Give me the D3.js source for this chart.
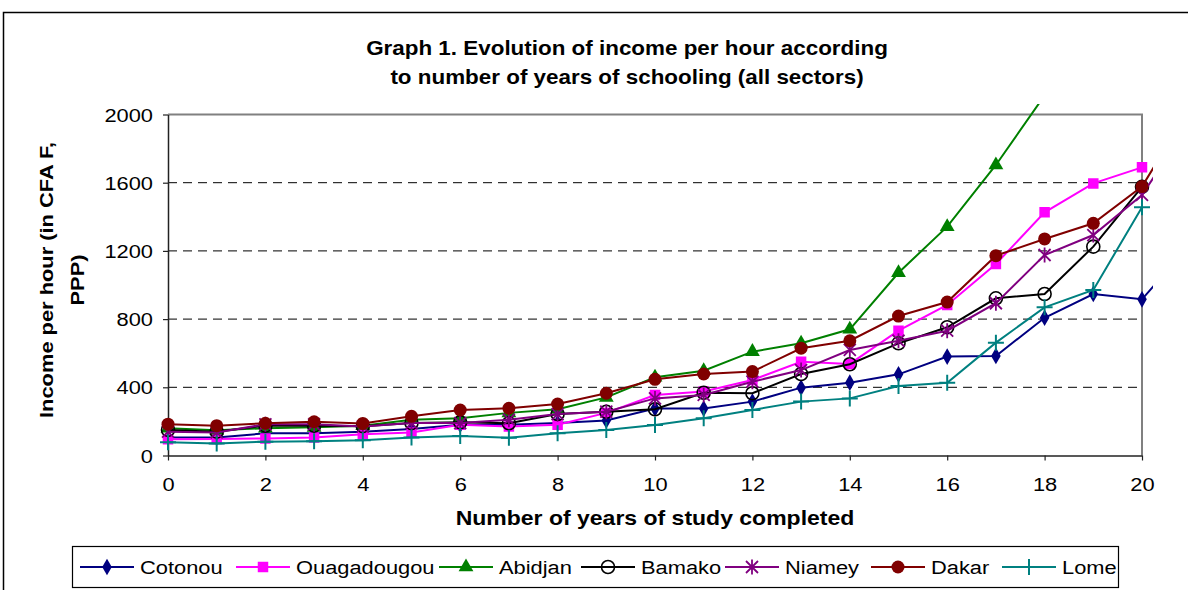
<!DOCTYPE html>
<html><head><meta charset="utf-8">
<script src="https://cdn.jsdelivr.net/npm/d3@7"></script>
<style>
html,body{margin:0;padding:0;background:#fff;}
svg{display:block;}
text{font-family:"Liberation Sans",Arial,sans-serif;fill:#000;}
</style></head>
<body>
<svg id="chart" width="1188" height="590"></svg>
<script>
// ---- data ----
const years = [0,1,2,3,4,5,6,7,8,9,10,11,12,13,14,15,16,17,18,19,20,21];
const cotonou     = [105,105,130,130,140,155,180,180,190,205,275,275,316,398,427,476,580,584,808,947,916,1242];
const ouagadougou = [95,97,100,105,125,135,180,170,180,250,355,375,443,550,537,732,883,1123,1426,1596,1690,null];
const abidjan     = [160,148,160,165,175,210,218,250,271,341,459,497,609,658,740,1072,1342,1704,2112,null,null,null];
const bamako      = [150,140,175,175,172,190,195,189,243,257,271,368,365,478,535,658,752,922,947,1225,1576,null];
const niamey      = [140,135,183,183,170,190,190,210,243,257,335,355,433,501,619,673,732,893,1176,1293,1528,1960];
const dakar       = [184,175,189,198,188,230,267,277,302,365,447,478,492,629,673,818,900,1172,1270,1362,1577,2048];
const lome        = [78,71,81,83,90,105,114,104,130,150,179,218,267,316,335,408,427,662,869,971,1456,null];
const seriesNames = ["Cotonou","Ouagadougou","Abidjan","Bamako","Niamey","Dakar","Lome"];
const seriesValues = [cotonou,ouagadougou,abidjan,bamako,niamey,dakar,lome];
const xTicks = [0,2,4,6,8,10,12,14,16,18,20];
const yTicks = [0,400,800,1200,1600,2000];
const titleLines = ["Graph 1. Evolution of income per hour according","to number of years of schooling (all sectors)"];
const xTitle = "Number of years of study completed";
const yTitleLines = ["Income per hour (in CFA F,","PPP)"];

// ---- styles / layout ----
const colors = ["#000080","#FF00FF","#008000","#000000","#800080","#800000","#008080"];
const shapes = ["diamond","square","triangle","circle","asterisk","dot","plus"];
const legendX = [80,236,439,581,725,871,1002];
const SX = 1.15;

const svg = d3.select("#chart");
const L = 168, R = 1142, T = 114.5, B = 455.5;
const x = d3.scaleLinear().domain([0,20]).range([L,R]);
const y = d3.scaleLinear().domain([0,2000]).range([B,T]);

function stretch(sel, rot){
  sel.each(function(){
    const t = d3.select(this);
    const tx = +t.attr("x")||0, ty = +t.attr("y")||0;
    t.attr("x",0).attr("y",0)
     .attr("transform",`translate(${tx},${ty})${rot?` rotate(${rot})`:""} scale(${SX},1)`);
  });
}

// outer frame
svg.append("rect").attr("x",3.5).attr("y",12.5).attr("width",1200).attr("height",600)
  .attr("fill","none").attr("stroke","#000").attr("stroke-width",1.5);

// title
svg.append("g").selectAll("text").data(titleLines).join("text")
  .attr("x",627).attr("y",(d,i)=>55+i*29)
  .attr("text-anchor","middle").attr("font-weight","bold").attr("font-size",19.5)
  .text(d=>d).call(stretch);

// gridlines
svg.append("g").selectAll("line").data(yTicks.filter(v=>v>0&&v<2000)).join("line")
  .attr("x1",L).attr("x2",R).attr("y1",d=>y(d)).attr("y2",d=>y(d))
  .attr("stroke","#000").attr("stroke-width",1).attr("stroke-dasharray","9,6");

// plot border top/right
svg.append("path").attr("d",`M${L},${T}H${R}V${B}`).attr("fill","none")
  .attr("stroke","#808080").attr("stroke-width",2);

// axes
const yAxis = svg.append("g").attr("transform",`translate(${L},0)`)
  .call(d3.axisLeft(y).tickValues(yTicks).tickFormat(d3.format("d")).tickSize(5).tickPadding(10).tickSizeOuter(0));
const xAxis = svg.append("g").attr("transform",`translate(0,${B})`)
  .call(d3.axisBottom(x).tickValues(xTicks).tickFormat(d3.format("d")).tickSize(5).tickPadding(17).tickSizeOuter(0));
[yAxis,xAxis].forEach(a=>{
  a.select(".domain").attr("stroke","#222").attr("stroke-width",1.5);
  a.selectAll(".tick line").attr("stroke","#222").attr("stroke-width",1.2);
  a.selectAll(".tick text").attr("font-size",19).attr("font-family","Liberation Sans,Arial,sans-serif").attr("fill","#000");
});
yAxis.selectAll(".tick text").attr("y",0).attr("dy","0.35em").call(stretch);
xAxis.selectAll(".tick text").call(stretch);

// axis titles
svg.append("text").attr("x",655).attr("y",525).attr("text-anchor","middle")
  .attr("font-weight","bold").attr("font-size",20).text(xTitle).call(stretch);
svg.append("g").selectAll("text").data(yTitleLines).join("text")
  .attr("x",(d,i)=>53+i*31).attr("y",280).attr("text-anchor","middle")
  .attr("font-weight","bold").attr("font-size",19).text(d=>d)
  .call(s=>stretch(s,-90));

// markers
function marker(g, shape, color){
  if(shape==="diamond") g.append("path").attr("d",d3.symbol(d3.symbolDiamond,80)()).attr("fill",color);
  else if(shape==="square") g.append("path").attr("d",d3.symbol(d3.symbolSquare,110)()).attr("fill",color);
  else if(shape==="triangle") g.append("path").attr("d",d3.symbol(d3.symbolTriangle,95)()).attr("fill",color);
  else if(shape==="circle") g.append("circle").attr("r",6.5).attr("fill","none").attr("stroke",color).attr("stroke-width",1.6);
  else if(shape==="dot") g.append("circle").attr("r",6.5).attr("fill",color);
  else if(shape==="asterisk") g.append("path").attr("d","M-6,-6L6,6M-6,6L6,-6M0,-7.5V7.5").attr("stroke",color).attr("stroke-width",1.8).attr("fill","none");
  else if(shape==="plus") g.append("path").attr("d","M-8,0H8M0,-8V8").attr("stroke",color).attr("stroke-width",2).attr("fill","none");
}

// clip
svg.append("defs").append("clipPath").attr("id","clip")
  .append("rect").attr("x",L-12).attr("y",104).attr("width",R+11-(L-12)).attr("height",B+20-104);

const plot = svg.append("g").attr("clip-path","url(#clip)");
const line = d3.line().defined(d=>d[1]!=null).x(d=>x(d[0])).y(d=>y(d[1]));
seriesValues.forEach((vals,si)=>{
  const pts = years.map((yr,i)=>[yr,vals[i]]);
  const g = plot.append("g");
  g.append("path").datum(pts).attr("d",line).attr("fill","none")
    .attr("stroke",colors[si]).attr("stroke-width",2);
  pts.filter(p=>p[1]!=null && p[0]<=20).forEach(p=>{
    const mg = g.append("g").attr("transform",`translate(${x(p[0])},${y(p[1])})`);
    marker(mg, shapes[si], colors[si]);
  });
});

// legend
const lg = svg.append("g");
lg.append("rect").attr("x",72.5).attr("y",546.5).attr("width",1046).attr("height",41)
  .attr("fill","#fff").attr("stroke","#000").attr("stroke-width",1.2);
seriesNames.forEach((n,i)=>{
  const lx = legendX[i], cy = 567;
  lg.append("line").attr("x1",lx).attr("x2",lx+54).attr("y1",cy).attr("y2",cy)
    .attr("stroke",colors[i]).attr("stroke-width",2);
  const mg = lg.append("g").attr("transform",`translate(${lx+27},${cy})`);
  marker(mg, shapes[i], colors[i]);
  lg.append("text").attr("x",lx+60).attr("y",cy+7).attr("font-size",19).text(n).call(stretch);
});
</script>
</body></html>
